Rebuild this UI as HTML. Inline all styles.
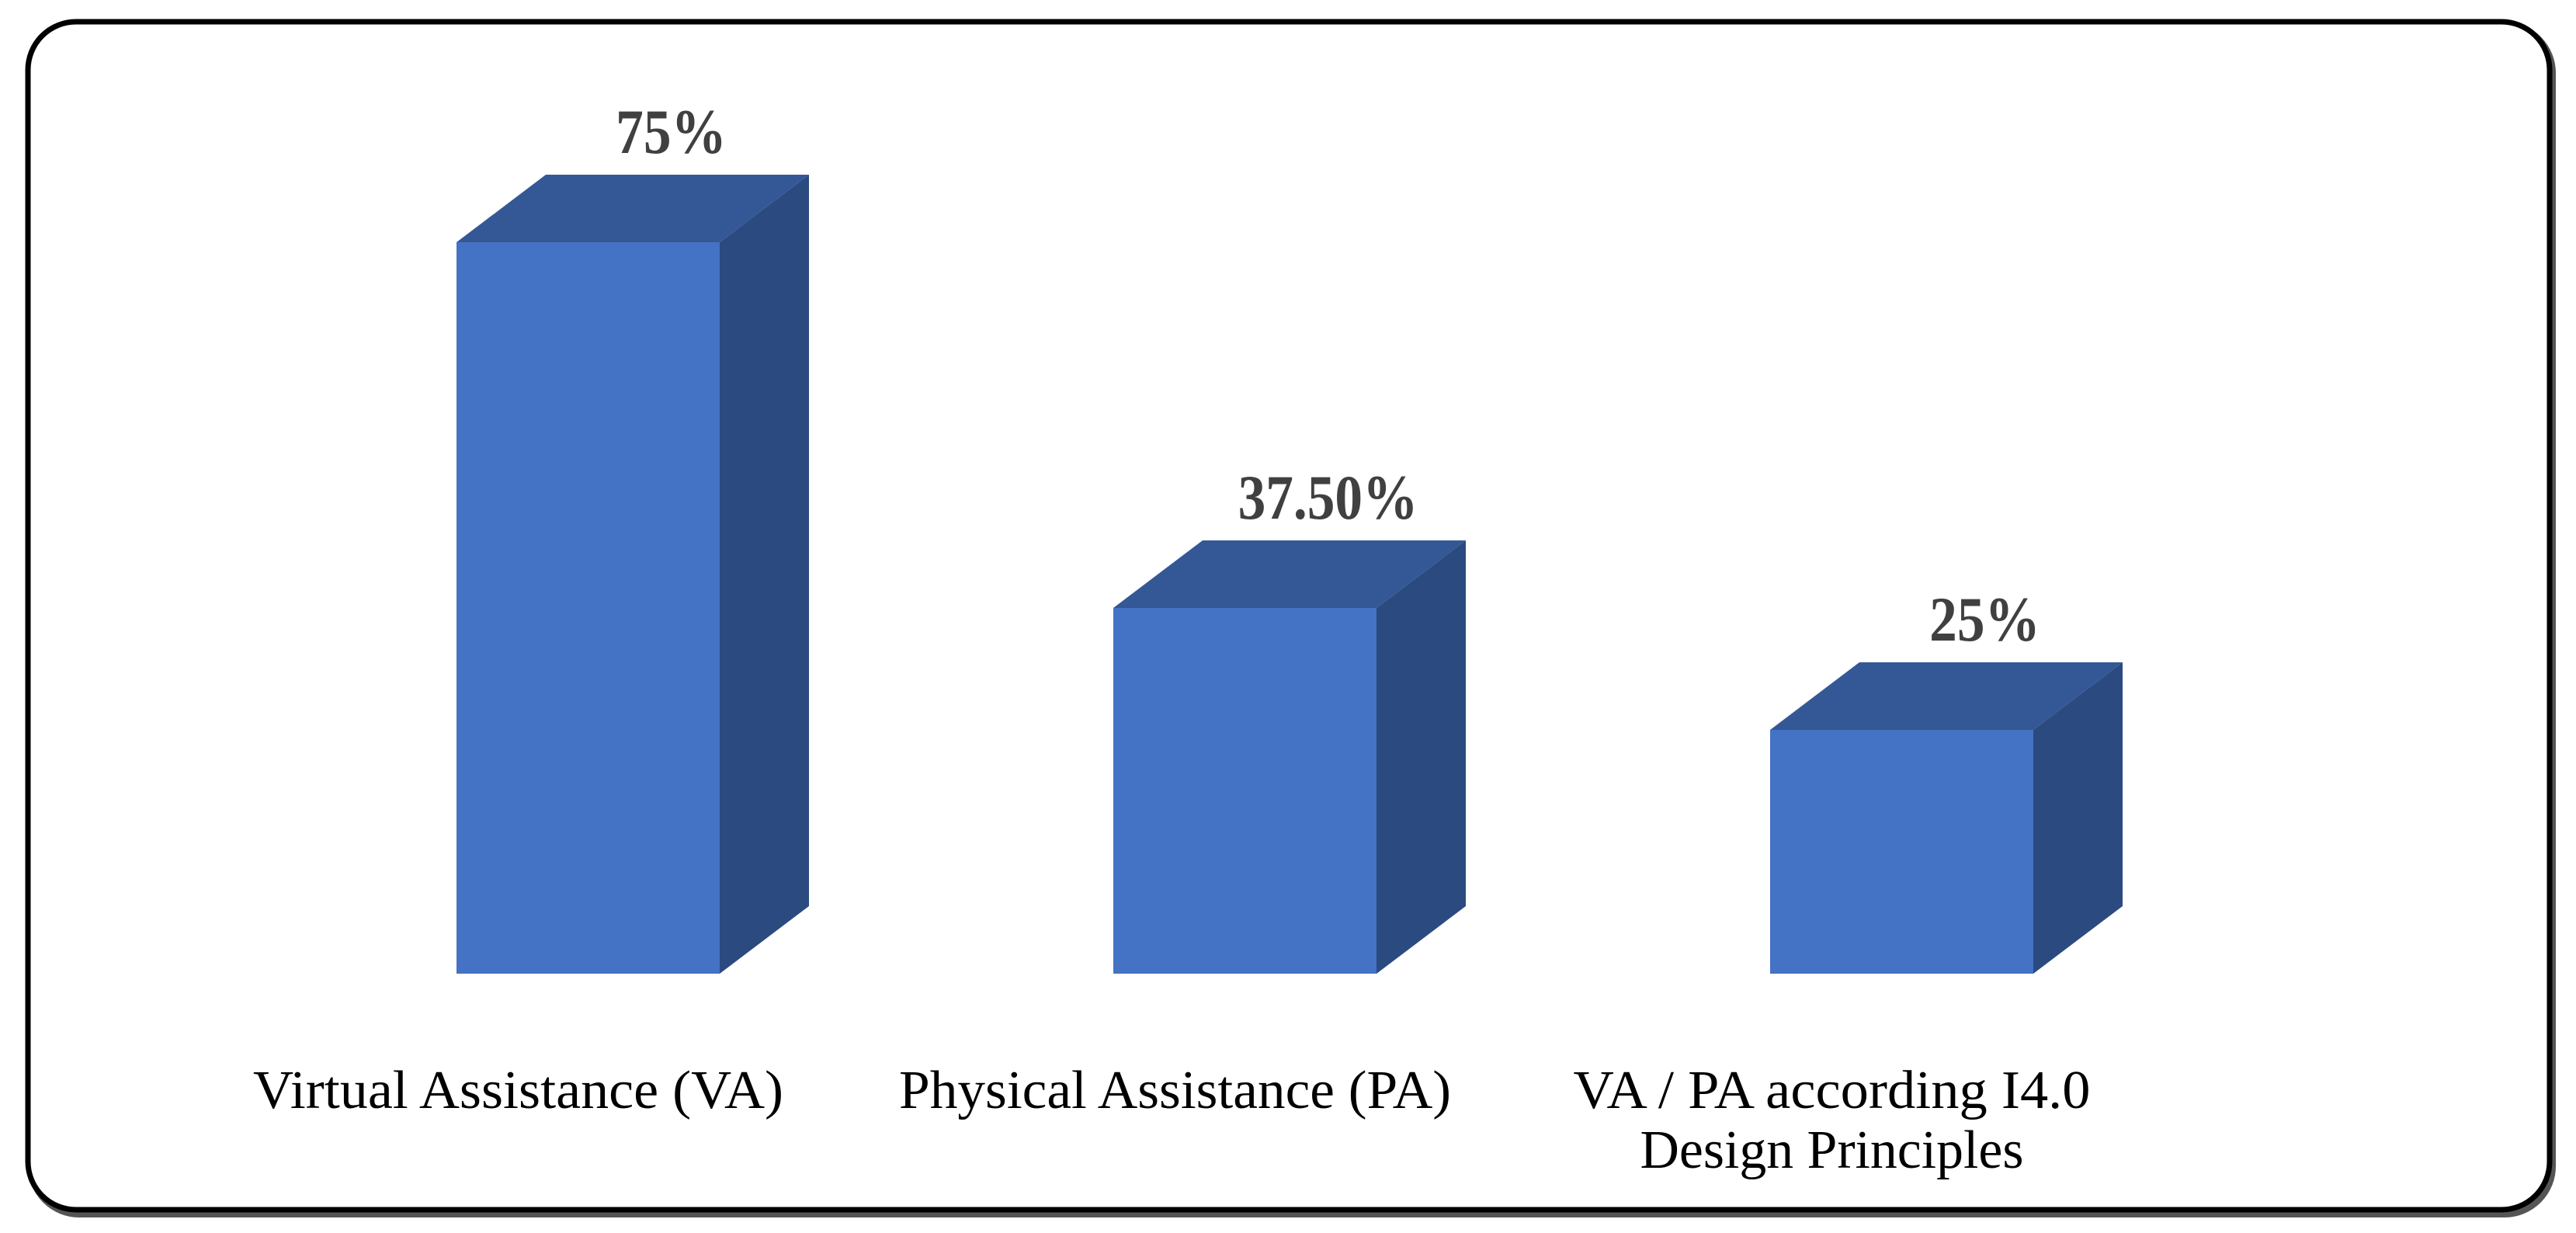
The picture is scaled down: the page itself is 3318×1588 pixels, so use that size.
<!DOCTYPE html>
<html><head><meta charset="utf-8"><style>
html,body{margin:0;padding:0;background:#fff;width:3318px;height:1588px;overflow:hidden}
</style></head><body>
<svg id="chart" width="3318" height="1588" viewBox="0 0 3318 1588" xmlns="http://www.w3.org/2000/svg">
<rect x="40" y="32" width="3248" height="1532" rx="62" fill="none" stroke="#555" stroke-width="8"/>
<rect x="36" y="28" width="3248" height="1530" rx="62" fill="#fff" stroke="#000" stroke-width="7"/>
<g id="bars"></g>
</svg>
<script>
const categories = [["Virtual Assistance (VA)"], ["Physical Assistance (PA)"], ["VA / PA according I4.0", "Design Principles"]];
const values = [75, 37.5, 25];
const valueLabels = ["75%", "37.50%", "25%"];
const labelWidths = [[683], [711], [666, 494]];

const NS = "http://www.w3.org/2000/svg";
const baseY = 1254, pxPerPct = 12.56;
const firstX = 588, step = 846, barW = 339, dx = 115, dy = 87;
const yScale = v => baseY - v * pxPerPct;
const xScale = i => firstX + i * step;
const g = document.getElementById('bars');
function mk(tag, attrs) { const e = document.createElementNS(NS, tag); for (const k in attrs) e.setAttribute(k, attrs[k]); return e; }

values.forEach((v, i) => {
  const x = xScale(i), top = yScale(v);
  const side = mk('polygon', {points: `${x+barW},${top} ${x+barW+dx},${top-dy} ${x+barW+dx},${baseY-dy} ${x+barW},${baseY}`, fill: '#2b4a80'});
  
  
  g.appendChild(side);
  const topF = mk('polygon', {points: `${x},${top} ${x+dx},${top-dy} ${x+barW+dx},${top-dy} ${x+barW},${top}`, fill: '#345895'});
  
  
  g.appendChild(topF);
  const front = mk('rect', {x: x, y: top, width: barW, height: baseY - top, fill: '#4472c4'});
  
  
  g.appendChild(front);
  const lg = mk('g', {transform: `translate(${x + barW/2 + 107},${top - 115}) scale(0.87,1)`});
  const lbl = mk('text', {x: 0, y: 0, 'text-anchor': 'middle', 'font-family': '"Liberation Serif", serif', 'font-weight': 'bold', 'font-size': '82', fill: '#404040'});
  lbl.textContent = valueLabels[i];
  
  
  lg.appendChild(lbl);
  g.appendChild(lg);
  categories[i].forEach((line, j) => {
    const t = mk('text', {x: x + barW/2 - 90, y: 1427 + j * 77, 'text-anchor': 'middle', 'font-family': '"Liberation Serif", serif', 'font-size': '70', fill: '#000', textLength: labelWidths[i][j], lengthAdjust: 'spacingAndGlyphs'});
    t.textContent = line;
    
    
    g.appendChild(t);
  });
});
</script>
</body></html>
